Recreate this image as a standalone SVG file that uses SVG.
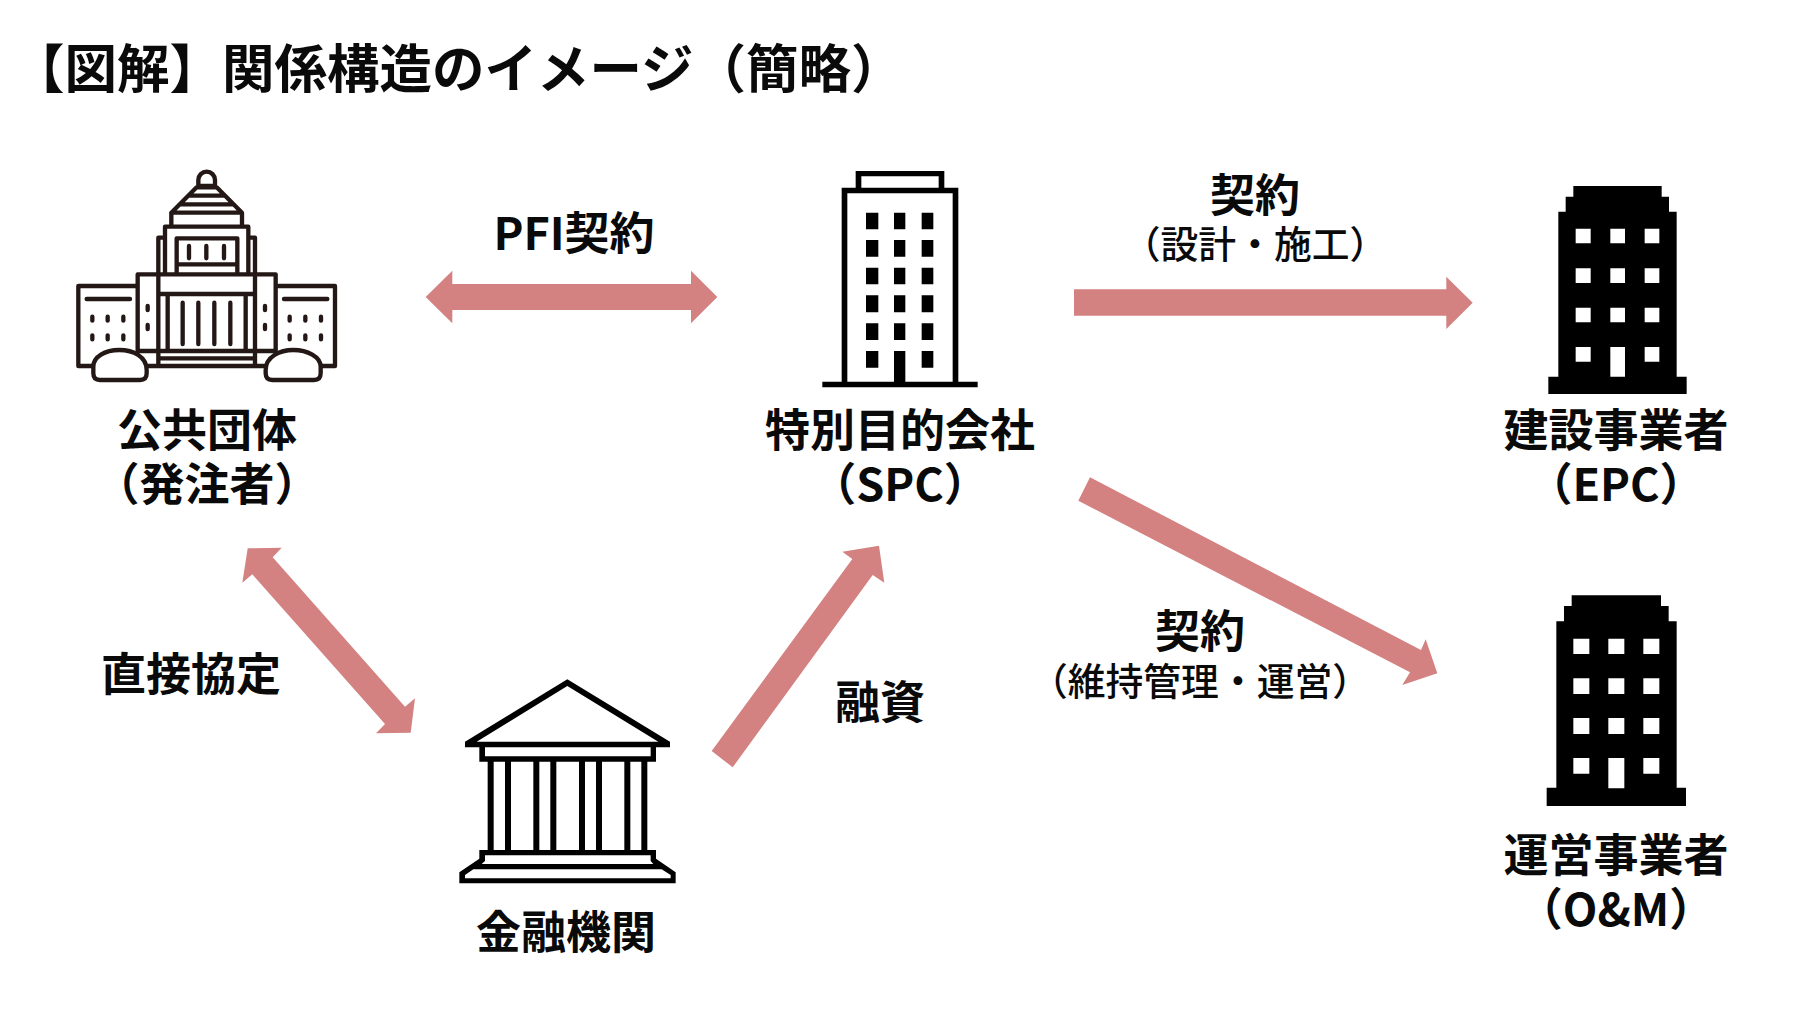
<svg xmlns="http://www.w3.org/2000/svg" width="1800" height="1013" viewBox="0 0 1800 1013">
<style>
text{font-family:"Noto Sans CJK JP","Noto Sans CJK SC","Liberation Sans",sans-serif;fill:#0a0a0a;font-weight:700}
.t{font-size:52.5px}
.l{font-size:45px;text-anchor:middle}
.s{font-size:37.8px;text-anchor:middle;font-weight:500}
.a{fill:#d48181}
.c{fill:none;stroke:#231815;stroke-width:13;stroke-linecap:round;stroke-linejoin:round}
.w{fill:#fff}
.k{fill:#000}
</style>
<rect width="1800" height="1013" fill="#fff"/>
<text class="t" x="12" y="88">【図解】関係構造のイメージ（簡略）</text>
<g id="connectors">
<path class="a" d="M425.7 297L452.3 270.7V284H691V270.7L717.3 297L691 323.3V310H452.3V323.3Z"/>
<path class="a" d="M1074 289.3H1446.3V276.7L1472.7 302.7L1446.3 329V315.7H1074Z"/>
<path class="a" d="M1090 477.3L1421 650L1425.7 639.3L1437.3 673.3L1402.3 685L1410 672.3L1078.3 500.7Z"/>
<path class="a" d="M247.7 548.3L281.7 547.7L272.7 557.3L405 706.7L415 698.3L410.7 732.7L376 733.3L385 724L252.3 574.3L242.3 582.7Z"/>
<path class="a" d="M711.7 751L852.3 559L842.3 551.7L879 545.7L884.3 582.7L872.7 575L732.7 767.3Z"/>
</g>
<g id="edge-labels">
<text class="l" x="574" y="250">PFI契約</text>
<text class="l" x="1255" y="212">契約</text>
<text class="s" x="1255" y="258">（設計・施工）</text>
<text class="l" x="1200" y="648">契約</text>
<text class="s" x="1200" y="695">（維持管理・運営）</text>
<text class="l" x="191" y="691">直接協定</text>
<text class="l" x="880" y="719">融資</text>
</g>
<g id="node-public">
<g transform="translate(50 150) scale(.33333)">
<path class="c" d="M445 108V90a25 25 0 0 1 50 0V108ZM440 112L364 188H576L500 112ZM418 137H522M392 163H548M364 190V228M576 190V228M345 230H595M345 230V370M595 230V370M345 263H325V370M595 263H615V370M380 370V265H562V370M380 343H562M417 288V325M469 288V325M522 288V325M263 603V373H677V603M263 603H677M325 373V645M615 373V645M325 432H615M353 432V600M587 432V600M398 458V582M445 458V582M493 458V582M541 458V582M325 625H615M85 648H855M263 408H85V648M677 408H855V648M110 447H240M702 447H832M127 500V512M173 500V512M220 500V512M127 556V568M173 556V568M220 556V568M719 500V512M766 500V512M813 500V512M719 556V568M766 556V568M813 556V568M293 468V480M293 525V537M645 468V480M645 525V537"/>
<path class="c" style="fill:#fff" d="M130 650C130 620 165 600 208 600C250 600 290 620 290 660V670Q290 690 270 690H150Q130 690 130 670Z"/>
<path class="c" style="fill:#fff" d="M647 660C647 620 690 600 730 600C772 600 812 620 812 650V670Q812 690 792 690H667Q647 690 647 670Z"/>
</g>
<text class="l"><tspan x="207" y="447">公共団体</tspan><tspan x="207" y="501">（発注者）</tspan></text>
</g>
<g id="node-spc">
<g transform="translate(800 150) scale(.33333)">
<path class="k" fill-rule="evenodd" d="M167 63H433V113H475V695H533V712H67V695H125V113H167ZM184 79V113H416V79ZM142 130V695H282V603H316V695H458V130Z"/>
<path class="k" d="M198 188h37v50h-37zM282 188h34v50h-34zM365 188h35v50h-35zM198 270h37v50h-37zM282 270h34v50h-34zM365 270h35v50h-35zM198 353h37v50h-37zM282 353h34v50h-34zM365 353h35v50h-35zM198 436h37v51h-37zM282 436h34v51h-34zM365 436h35v51h-35zM198 520h37v50h-37zM282 520h34v50h-34zM365 520h35v50h-35zM198 603h37v50h-37zM365 603h35v50h-35z"/>
</g>
<text class="l"><tspan x="900" y="447">特別目的会社</tspan><tspan x="900" y="501">（SPC）</tspan></text>
</g>
<g id="node-epc">
<g transform="translate(1520 170) scale(.33333)">
<path class="k" d="M160 48H425V80H447V125H470V620H500V672H85V620H115V125H137V80H160Z"/>
<path class="w" d="M167 176h45v44h-45zM271 176h44v44h-44zM374 176h44v44h-44zM167 295h45v44h-45zM271 295h44v44h-44zM374 295h44v44h-44zM167 413h45v44h-45zM271 413h44v44h-44zM374 413h44v44h-44zM167 531h45v44h-45zM271 531h44v89h-44zM374 531h44v44h-44z"/>
</g>
<text class="l"><tspan x="1616" y="447">建設事業者</tspan><tspan x="1616" y="501">（EPC）</tspan></text>
</g>
<g id="node-om">
<g transform="translate(1520 580) scale(.33333)">
<path class="k" d="M155 46H423V78H446V124H470V623H498V678H80V623H109V124H132V78H155Z"/>
<path class="w" d="M160 176h48v46h-48zM265 176h48v46h-48zM370 176h48v46h-48zM160 295h48v47h-48zM265 295h48v47h-48zM370 295h48v47h-48zM160 414h48v48h-48zM265 414h48v48h-48zM370 414h48v48h-48zM160 534h48v47h-48zM265 534h48v91h-48zM370 534h48v47h-48z"/>
</g>
<text class="l"><tspan x="1616" y="872">運営事業者</tspan><tspan x="1616" y="926">（O&amp;M）</tspan></text>
</g>
<g id="node-bank">
<g transform="translate(440 660) scale(.33333)">
<path class="k" fill-rule="evenodd" d="M382 58L690 245V262H648V305H118V262H75V245ZM382 78L110 245H655ZM135 262V289H632V262Z"/>
<path class="k" d="M143 297h18v280h-18zM195 297h18v280h-18zM280 297h18v280h-18zM331 297h18v280h-18zM417 297h18v280h-18zM468 297h18v280h-18zM553 297h18v280h-18zM604 297h18v280h-18z"/>
<path class="k" fill-rule="evenodd" d="M118 570H648V596L707 637V670H58V637L118 596ZM135 586V603L125 612H640L632 603V586ZM100 628L75 645V655H692V645L665 628Z"/>
</g>
<text class="l" x="566" y="949">金融機関</text>
</g>
</svg>
